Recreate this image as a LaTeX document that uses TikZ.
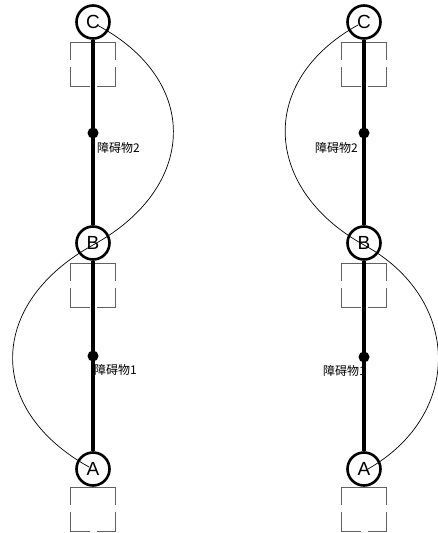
\documentclass[tikz,border=0pt]{standalone}
\usepackage{fontspec}
\setmainfont{Liberation Sans}
\newfontfamily\cjk{Noto Sans CJK SC}
\begin{document}
\begin{tikzpicture}[x=1pt,y=-1pt,
  station/.style={circle,draw=black,fill=white,line width=2.6pt,minimum size=33pt,inner sep=0pt,font=\fontsize{19}{19}\selectfont},
  obst/.style={circle,fill=black,minimum size=11pt,inner sep=0pt},
  track/.style={line width=4pt,black},
  boxline/.style={line width=1pt,draw=black!62},
  lbl/.style={inner sep=0pt,font=\cjk\fontsize{12}{12}\selectfont},
  route/.style={line width=0.7pt,black},
  gbox/.pic={
    \draw[boxline] (-22.5,18)--(-22.5,0)--(22.5,0)--(22.5,18);
    \draw[boxline] (-22.5,25)--(-22.5,44)--(-3.5,44);
    \draw[boxline] (22.5,25)--(22.5,44)--(3.5,44);
  }]
\useasboundingbox (0,0) rectangle (438,533);
% left diagram
\pic at (93,42) {gbox};
\pic at (93,263) {gbox};
\pic at (93,487) {gbox};
\node[station] (LC) at (93,22) {C};
\node[station] (LB) at (93,243) {B};
\node[station] (LA) at (93,469) {A};
\node[obst] (LO2) at (93,133) {};
\node[obst] (LO1) at (93,356) {};
\draw[track] (LC) -- (LB);
\draw[track] (LB) -- (LA);
\node[lbl,anchor=west] (LL2) at (97,148) {障碍物2};
\node[lbl,anchor=west] (LL1) at (94,370) {障碍物1};
\coordinate (ls) at (97,25);
\coordinate (lm) at (93,245);
\coordinate (le) at (89,467);
\draw[route] (ls) .. controls (202,81) and (197,188) .. (lm)
                  .. controls (-12,303) and (-15,409) .. (le);
% right diagram
\pic at (364,42) {gbox};
\pic at (364,263) {gbox};
\pic at (364,487) {gbox};
\node[station] (RC) at (364,22) {C};
\node[station] (RB) at (364,243) {B};
\node[station] (RA) at (364,469) {A};
\node[obst] (RO2) at (364,133) {};
\node[obst] (RO1) at (364,357) {};
\draw[track] (RC) -- (RB);
\draw[track] (RB) -- (RA);
\node[lbl,anchor=east] (RL2) at (358,148) {障碍物2};
\node[lbl,anchor=east] (RL1) at (366,371) {障碍物1};
\coordinate (rs) at (358,25);
\coordinate (rm) at (364,245);
\coordinate (re) at (368,469);
\draw[route] (rs) .. controls (257,81) and (263,189) .. (rm)
                  .. controls (461,298) and (464,414) .. (re);
\end{tikzpicture}
\end{document}
